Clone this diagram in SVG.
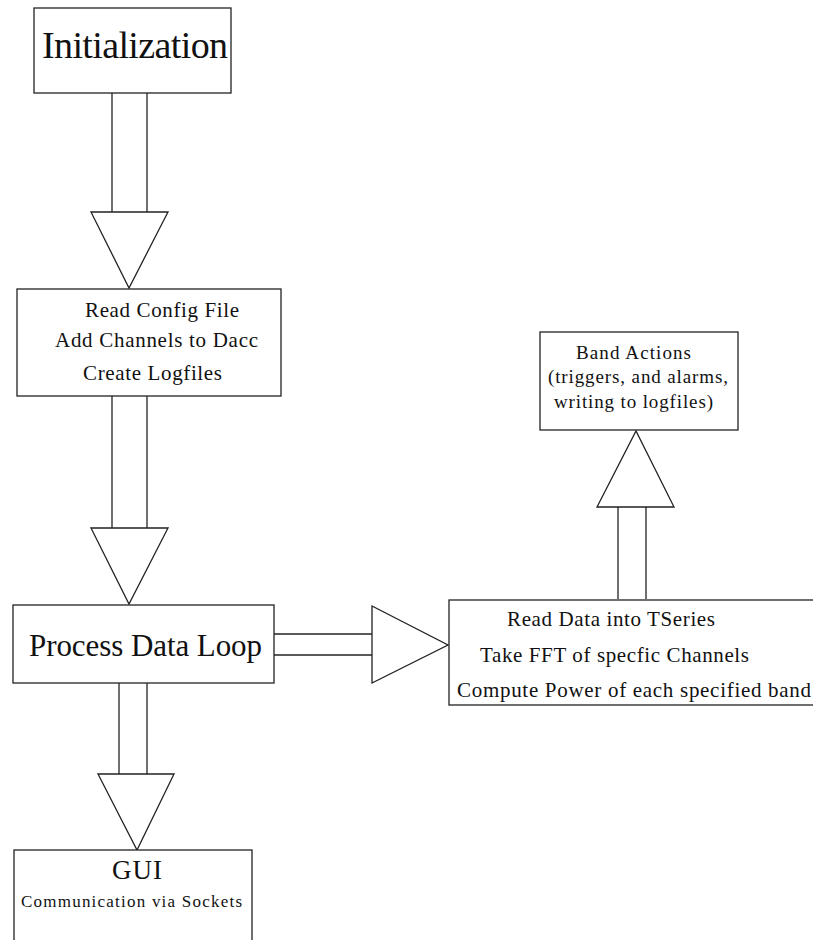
<svg xmlns="http://www.w3.org/2000/svg" width="813" height="940" viewBox="0 0 813 940">
<style>
  .box { fill: #fff; stroke: #222; stroke-width: 1.3; }
  .ln { stroke: #222; stroke-width: 1.3; fill: none; }
  .tri { fill: #fff; stroke: #222; stroke-width: 1.3; stroke-linejoin: miter; }
  .t { font-family: 'Liberation Serif', 'DejaVu Serif', serif; fill: #111; }
</style>
<rect x="0" y="0" width="813" height="940" fill="#fff"/>
<g id="connectors">
  <g id="c1"><line class="ln" x1="112" y1="93" x2="112" y2="212"/><line class="ln" x1="147" y1="93" x2="147" y2="212"/><polygon class="tri" points="91,212 168,212 129,288"/></g>
  <g id="c2"><line class="ln" x1="112" y1="396" x2="112" y2="528"/><line class="ln" x1="147" y1="396" x2="147" y2="528"/><polygon class="tri" points="91,528 168,528 129,604"/></g>
  <g id="c3"><line class="ln" x1="119" y1="683" x2="119" y2="774"/><line class="ln" x1="147" y1="683" x2="147" y2="774"/><polygon class="tri" points="98,774 174,774 137,850"/></g>
  <g id="c4"><line class="ln" x1="274" y1="634" x2="372" y2="634"/><line class="ln" x1="274" y1="655" x2="372" y2="655"/><polygon class="tri" points="372,606 372,683 448,645"/></g>
  <g id="c5"><line class="ln" x1="618" y1="599" x2="618" y2="507"/><line class="ln" x1="646" y1="599" x2="646" y2="507"/><polygon class="tri" points="597,507 674,507 636,431"/></g>
</g>
<g id="init">
  <rect class="box" x="34" y="8" width="197" height="85"/>
  <text class="t" x="42" y="58" font-size="38" textLength="186">Initialization</text>
</g>
<g id="config">
  <rect class="box" x="17" y="289" width="264" height="107"/>
  <text class="t" x="85" y="317" font-size="21" textLength="154">Read Config File</text>
  <text class="t" x="55" y="347" font-size="21" textLength="203">Add Channels to Dacc</text>
  <text class="t" x="83" y="380" font-size="21" textLength="139">Create Logfiles</text>
</g>
<g id="process">
  <rect class="box" x="13" y="605" width="261" height="78"/>
  <text class="t" x="29" y="656" font-size="31" textLength="233">Process Data Loop</text>
</g>
<g id="gui">
  <rect class="box" x="14" y="850" width="238" height="110"/>
  <text class="t" x="112" y="879" font-size="27" textLength="50">GUI</text>
  <text class="t" x="21" y="907" font-size="17" textLength="221">Communication via Sockets</text>
</g>
<g id="compute">
  <rect class="box" x="449" y="600" width="380" height="105"/>
  <text class="t" x="507" y="626" font-size="21" textLength="208">Read Data into TSeries</text>
  <text class="t" x="480" y="662" font-size="21" textLength="269">Take FFT of specfic Channels</text>
  <text class="t" x="457" y="697" font-size="21" textLength="354">Compute Power of each specified band</text>
</g>
<g id="band">
  <rect class="box" x="540" y="332" width="198" height="98"/>
  <text class="t" x="576" y="359" font-size="19" textLength="115">Band Actions</text>
  <text class="t" x="548" y="383" font-size="19" textLength="180">(triggers, and alarms,</text>
  <text class="t" x="554" y="408" font-size="19" textLength="159">writing to logfiles)</text>
</g>
</svg>
